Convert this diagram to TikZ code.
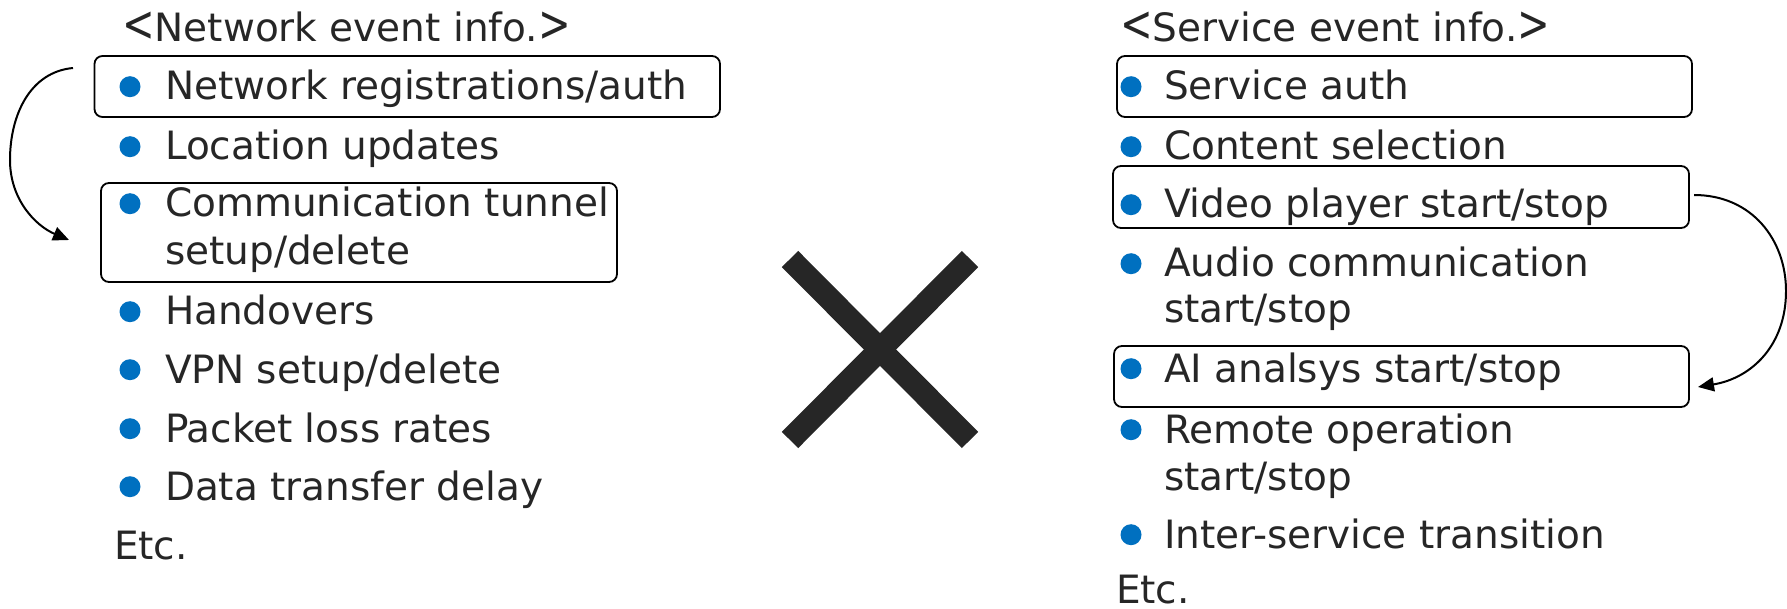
\documentclass[tikz,border=0pt]{standalone}
\usepackage{fontspec}
\usepackage{graphicx}
\setmainfont{DejaVu Sans}
\usetikzlibrary{arrows.meta}
\definecolor{txt}{HTML}{262626}
\definecolor{bul}{HTML}{0070C0}
% tall angle brackets for the list headings
\newcommand{\openbr}{\scalebox{1}[1.3]{<}}
\newcommand{\closebr}{\scalebox{1}[1.3]{>}}
\begin{document}
\begin{tikzpicture}[x=1pt,y=-1pt,
  every node/.style={inner sep=0pt, outer sep=0pt},
  line/.style={anchor=base west, text=txt, font=\fontsize{39}{47}\selectfont},
  dot/.style={circle, fill=bul, minimum size=21pt},
  frame/.style={draw=black, line width=1.8pt, rounded corners=8pt},
  link/.style={draw=black, line width=2pt, -{Triangle[length=16pt,width=14pt]}},
  cross/.style={draw=txt, line width=23pt}]
\useasboundingbox (0,0) rectangle (1787,609);

% ---------- network side ----------
\node[line] (nettitle) at (122,42) {\openbr Network event info.\closebr};

\node[frame, minimum width=625.5pt, minimum height=61pt] (nbox1) at (407.25,86.5) {};
\node[frame, minimum width=516pt, minimum height=99pt] (nbox2) at (359,232.5) {};

\node[dot] (nd1) at (130,86.7) {};
\node[dot] (nd2) at (130,146.7) {};
\node[dot] (nd3) at (130,203.7) {};
\node[dot] (nd4) at (130,311.7) {};
\node[dot] (nd5) at (130,369.7) {};
\node[dot] (nd6) at (130,428.7) {};
\node[dot] (nd7) at (130,486.7) {};

\node[line] (n1)  at (165,100) {Network registrations/auth};
\node[line] (n2)  at (165,160) {Location updates};
\node[line] (n3a) at (165,217) {Communication tunnel};
\node[line] (n3b) at (165,265) {setup/delete};
\node[line] (n4)  at (165,325) {Handovers};
\node[line] (n5)  at (165,383) {VPN setup/delete};
\node[line] (n6)  at (165,442) {Packet loss rates};
\node[line] (n7)  at (165,500) {Data transfer delay};
\node[line] (netc) at (114,559) {Etc.};

\coordinate (na) at (73,68);
\coordinate (nb) at (69,240);
\draw[link] (na) .. controls (30,72) and (10,115) .. (10,160)
                 .. controls (10,200) and (36,226) .. (nb);

% ---------- cross ----------
\coordinate (c1) at (790,259);
\coordinate (c2) at (970,440);
\coordinate (c3) at (970,259);
\coordinate (c4) at (790,440);
\draw[cross] (c1) -- (c2);
\draw[cross] (c3) -- (c4);

% ---------- service side ----------
\node[line] (srvtitle) at (1120,42) {\openbr Service event info.\closebr};

\node[frame, minimum width=575pt, minimum height=61pt] (sbox1) at (1404.5,86.5) {};
\node[frame, minimum width=576pt, minimum height=62pt] (sbox2) at (1401,197) {};
\node[frame, minimum width=575pt, minimum height=61pt] (sbox3) at (1401.5,376.5) {};

\node[dot] (sd1) at (1131,86.7) {};
\node[dot] (sd2) at (1131,146.7) {};
\node[dot] (sd3) at (1131,204.7) {};
\node[dot] (sd4) at (1131,263.7) {};
\node[dot] (sd5) at (1131,368.7) {};
\node[dot] (sd6) at (1131,429.7) {};
\node[dot] (sd7) at (1131,534.7) {};

\node[line] (s1)  at (1164,100) {Service auth};
\node[line] (s2)  at (1164,160) {Content selection};
\node[line] (s3)  at (1164,218) {Video player start/stop};
\node[line] (s4a) at (1164,277) {Audio communication};
\node[line] (s4b) at (1164,323) {start/stop};
\node[line] (s5)  at (1164,382) {AI analsys start/stop};
\node[line] (s6a) at (1164,443) {Remote operation};
\node[line] (s6b) at (1164,490) {start/stop};
\node[line] (s7)  at (1164,548) {Inter-service transition};
\node[line] (setc) at (1116,603) {Etc.};

\coordinate (sa) at (1694,195);
\coordinate (sb) at (1698,387);
\draw[link] (sa) .. controls (1752,195) and (1786,240) .. (1786,291)
                 .. controls (1786,345) and (1752,378) .. (sb);
\end{tikzpicture}
\end{document}
